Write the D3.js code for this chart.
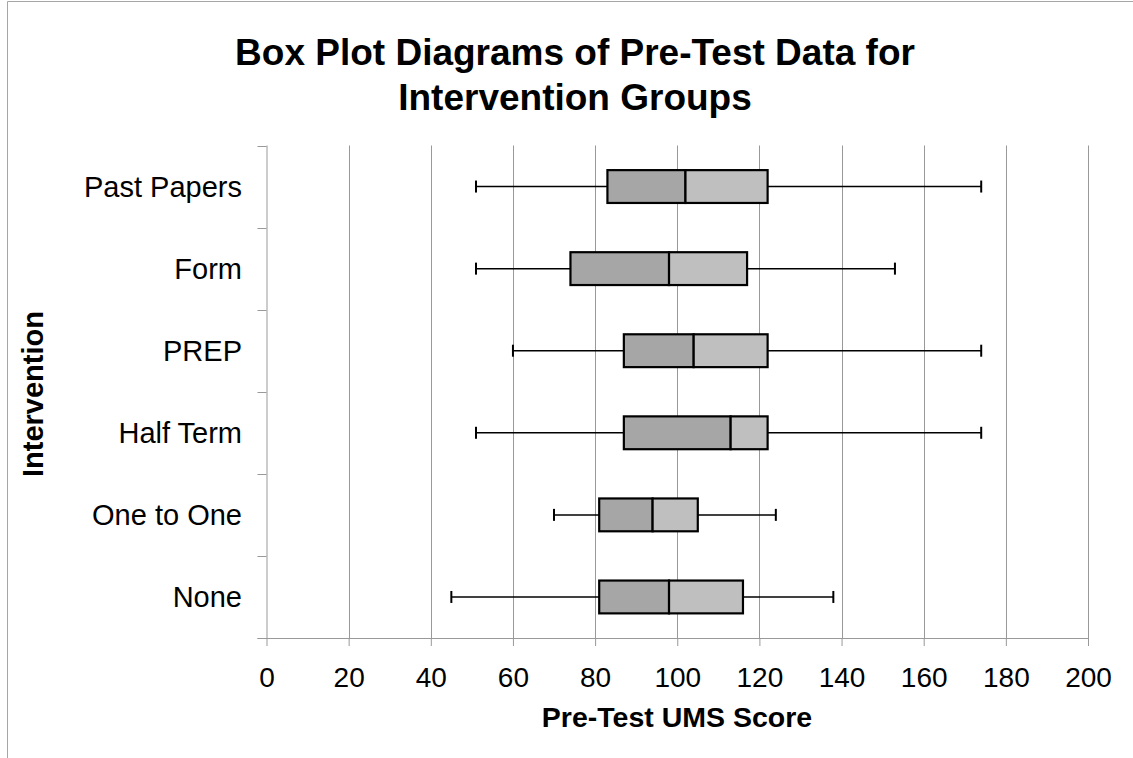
<!DOCTYPE html>
<html>
<head>
<meta charset="utf-8">
<script src="https://cdn.jsdelivr.net/npm/d3@7"></script>
<style>
  html, body { margin: 0; padding: 0; background: #fff; }
  svg { display: block; }
  text { font-family: "Liberation Sans", Arial, sans-serif; fill: #000; }
</style>
</head>
<body>
<svg id="chart" width="1133" height="758"></svg>
<script>
// Data (top to bottom as shown)
const categories = ["Past Papers", "Form", "PREP", "Half Term", "One to One", "None"];
const minValues    = [51, 51, 60, 51, 70, 45];
const q1Values     = [83, 74, 87, 87, 81, 81];
const medianValues = [102, 98, 104, 113, 94, 98];
const q3Values     = [122, 117, 122, 122, 105, 116];
const maxValues    = [174, 153, 174, 174, 124, 138];
const xTicks = [0, 20, 40, 60, 80, 100, 120, 140, 160, 180, 200];

const titleLines = ["Box Plot Diagrams of Pre-Test Data for", "Intervention Groups"];
const xTitle = "Pre-Test UMS Score";
const yTitle = "Intervention";

const svg = d3.select("#chart");
const W = 1133, H = 758;

// outer chart frame (left and top edges visible)
svg.append("path")
  .attr("d", `M7.5,${H} L7.5,1.5 L${W},1.5`)
  .attr("fill", "none").attr("stroke", "#a6a6a6").attr("stroke-width", 1);

const plot = { left: 266.5, right: 1088, top: 145.5, bottom: 638 };

const x = d3.scaleLinear().domain([0, 200]).range([plot.left, plot.right]);
const y = d3.scaleBand().domain(categories).range([plot.top, plot.bottom]).paddingInner(0).paddingOuter(0);

// vertical gridlines
svg.append("g").selectAll("line").data(xTicks.filter(d => d !== 0)).join("line")
  .attr("x1", d => Math.round(x(d)) + 0.5).attr("x2", d => Math.round(x(d)) + 0.5)
  .attr("y1", plot.top).attr("y2", plot.bottom)
  .attr("stroke", "#999").attr("stroke-width", 1);

// x axis
const xAxis = d3.axisBottom(x).tickValues(xTicks).tickSize(8).tickPadding(21).tickFormat(d3.format("d"));
const gx = svg.append("g").attr("transform", `translate(0,${plot.bottom})`).call(xAxis);
gx.select(".domain").attr("stroke", "#999").attr("d", `M${plot.left - 9},0.5H${plot.right}`);
gx.selectAll(".tick line").attr("stroke", "#999");
gx.selectAll(".tick text").attr("font-size", 28).attr("font-family", "Liberation Sans, Arial, sans-serif").attr("fill", "#000");

// y axis (ticks at band boundaries)
const yAxisG = svg.append("g");
yAxisG.append("line").attr("x1", plot.left + 0.5).attr("x2", plot.left + 0.5)
  .attr("y1", plot.top).attr("y2", plot.bottom).attr("stroke", "#999");
const boundaries = categories.map(c => y(c)).concat([plot.bottom]);
yAxisG.selectAll("line.tk").data(boundaries).join("line").attr("class", "tk")
  .attr("x1", plot.left - 9).attr("x2", plot.left)
  .attr("y1", d => Math.round(d) + 0.5).attr("y2", d => Math.round(d) + 0.5)
  .attr("stroke", "#999");
yAxisG.selectAll("text").data(categories).join("text")
  .attr("x", 242).attr("y", d => y(d) + y.bandwidth() / 2)
  .attr("dy", "0.35em").attr("text-anchor", "end").attr("font-size", 29)
  .text(d => d);

// boxes
const boxH = y.bandwidth() * 0.4;
const capH = 12;
const g = svg.append("g").selectAll("g").data(categories).join("g")
  .attr("transform", d => `translate(0,${y(d) + y.bandwidth() / 2})`);

// whiskers
g.append("line").attr("x1", (d, i) => x(minValues[i])).attr("x2", (d, i) => x(q1Values[i]))
  .attr("y1", 0).attr("y2", 0).attr("stroke", "#000").attr("stroke-width", 1.5);
g.append("line").attr("x1", (d, i) => x(q3Values[i])).attr("x2", (d, i) => x(maxValues[i]))
  .attr("y1", 0).attr("y2", 0).attr("stroke", "#000").attr("stroke-width", 1.5);
g.append("line").attr("x1", (d, i) => x(minValues[i])).attr("x2", (d, i) => x(minValues[i]))
  .attr("y1", -capH / 2).attr("y2", capH / 2).attr("stroke", "#000").attr("stroke-width", 2);
g.append("line").attr("x1", (d, i) => x(maxValues[i])).attr("x2", (d, i) => x(maxValues[i]))
  .attr("y1", -capH / 2).attr("y2", capH / 2).attr("stroke", "#000").attr("stroke-width", 2);

// lower box (Q1 - median)
g.append("rect").attr("x", (d, i) => x(q1Values[i])).attr("width", (d, i) => x(medianValues[i]) - x(q1Values[i]))
  .attr("y", -boxH / 2).attr("height", boxH)
  .attr("fill", "#a6a6a6").attr("stroke", "#000").attr("stroke-width", 2.2);
// upper box (median - Q3)
g.append("rect").attr("x", (d, i) => x(medianValues[i])).attr("width", (d, i) => x(q3Values[i]) - x(medianValues[i]))
  .attr("y", -boxH / 2).attr("height", boxH)
  .attr("fill", "#bfbfbf").attr("stroke", "#000").attr("stroke-width", 2.2);

// titles
svg.append("text").attr("x", 575).attr("text-anchor", "middle")
  .attr("font-size", 37).attr("font-weight", "bold")
  .selectAll("tspan").data(titleLines).join("tspan")
  .attr("x", 575).attr("y", (d, i) => 65 + i * 45).text(d => d);

svg.append("text").attr("x", 677).attr("y", 727).attr("text-anchor", "middle")
  .attr("font-size", 28.5).attr("font-weight", "bold").text(xTitle);

svg.append("text").attr("transform", `translate(43,394) rotate(-90)`).attr("text-anchor", "middle")
  .attr("font-size", 29).attr("font-weight", "bold").text(yTitle);
</script>
</body>
</html>
